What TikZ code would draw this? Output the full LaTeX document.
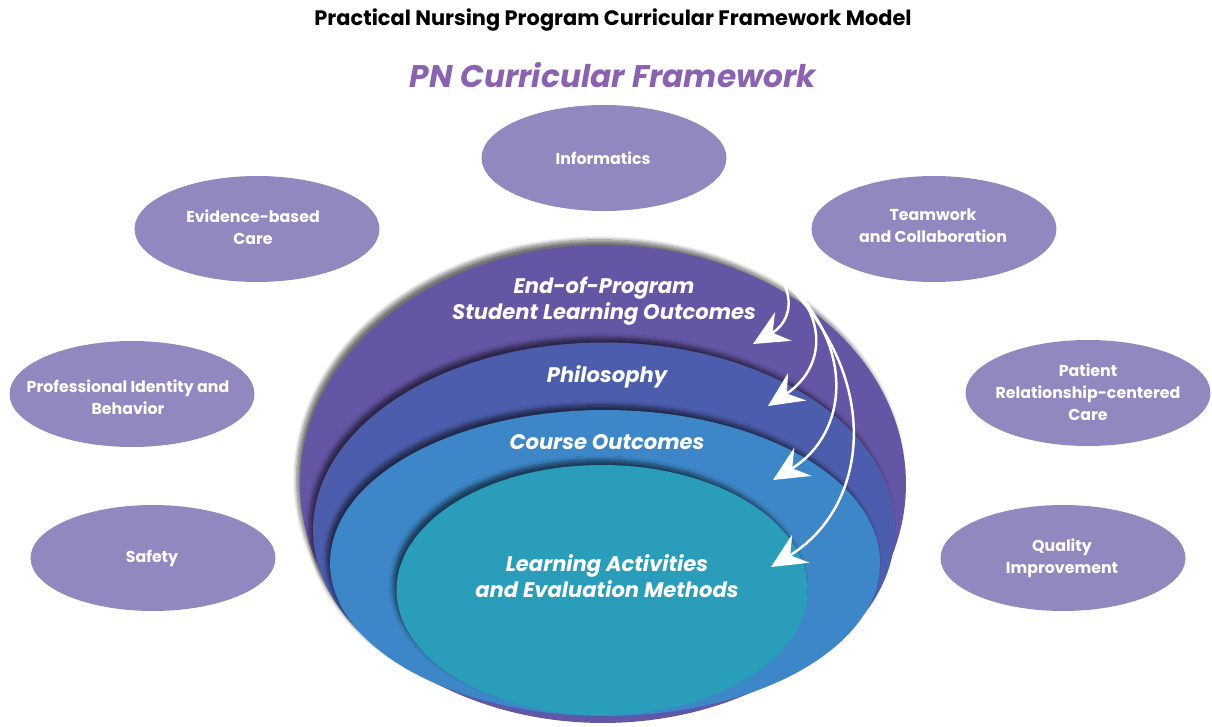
\documentclass[tikz,border=0pt]{standalone}
\usepackage{fontspec}
\setmainfont{Poppins}
\usetikzlibrary{shapes.geometric,arrows.meta,shadows.blur}
\definecolor{bubblefill}{HTML}{9288C0}
\definecolor{sloc}{HTML}{6556A5}
\definecolor{philc}{HTML}{4C5DAD}
\definecolor{coursec}{HTML}{3D87C8}
\definecolor{actc}{HTML}{2A9DBA}
\definecolor{headc}{HTML}{8A62B0}
\begin{document}
\begin{tikzpicture}[x=0.02cm,y=-0.02cm,
	bubble/.style={ellipse,fill=bubblefill,minimum width=4.9cm,minimum height=2.12cm,inner sep=0pt},
	bubbletext/.style={text=white,font=\bfseries\fontsize{9}{12.5}\selectfont,align=center},
	layer/.style={ellipse,inner sep=0pt,blur shadow={shadow xshift=-2pt,shadow yshift=3pt,shadow blur steps=8,shadow opacity=55}},
	layertext/.style={text=white,font=\bfseries\itshape\fontsize{12}{15}\selectfont,align=center},
	flow/.style={draw=white,line width=1.4pt,-{Stealth[length=0.7cm,width=0.66cm,inset=0.25cm]}}]
			\useasboundingbox (0,0) rectangle (1212,726);

			\node (title) at (613,20){\bfseries\fontsize{11.9}{13}\selectfont Practical Nursing Program Curricular Framework Model};
			\node (frame) at (613,75)[text=headc]{\bfseries\itshape\fontsize{17.8}{20}\selectfont PN Curricular Framework};

			\node (info) at (604,158)[bubble]{};
			\node (ebc) at (257,229)[bubble]{};
			\node (team) at (934,229)[bubble]{};
			\node (pib) at (132,394)[bubble]{};
			\node (prc) at (1088,393)[bubble]{};
			\node (safe) at (153,558)[bubble]{};
			\node (qi) at (1063,558)[bubble]{};

			\node at (603,158)[bubbletext]{Informatics};
			\node at (253,227)[bubbletext]{Evidence-based\\Care};
			\node at (933,226)[bubbletext]{Teamwork\\and Collaboration};
			\node at (128,397)[bubbletext]{Professional Identity and\\Behavior};
			\node at (1088,392)[bubbletext]{Patient\\Relationship-centered\\Care};
			\node at (152,558)[bubbletext]{Safety};
			\node at (1062,558)[bubbletext]{Quality\\Improvement};

			\node (slo) at (603,484)[layer,fill=sloc,minimum width=12.12cm,minimum height=9.56cm]{};
			\node (phil) at (604,530)[layer,fill=philc,minimum width=11.64cm,minimum height=7.5cm]{};
			\node (course) at (605,563)[layer,fill=coursec,minimum width=11cm,minimum height=6.12cm]{};
			\node (act) at (602,590)[layer,fill=actc,minimum width=8.22cm,minimum height=5cm]{};

			\node (sloText) at (604,301)[layertext]{End-of-Program\\Student Learning Outcomes};
			\node (philText) at (607,377)[layertext]{Philosophy};
			\node (courseText) at (607,442)[layertext]{Course Outcomes};
			\node (actText) at (607,576)[layertext]{Learning Activities\\and Evaluation Methods};

			\coordinate (src) at (740,245);
			\coordinate (toSlo) at (753,344);
			\coordinate (toPhil) at (768,406);
			\coordinate (toCourse) at (773,480);
			\coordinate (toAct) at (771,567);

			\draw[flow] (src) .. controls (798,272) and (798,318) .. (toSlo);
			\draw[flow] (src) .. controls (835,298) and (830,365) .. (toPhil);
			\draw[flow] (src) .. controls (862,320) and (855,430) .. (toCourse);
			\draw[flow] (src) .. controls (885,345) and (880,500) .. (toAct);
		\end{tikzpicture}
\end{document}
